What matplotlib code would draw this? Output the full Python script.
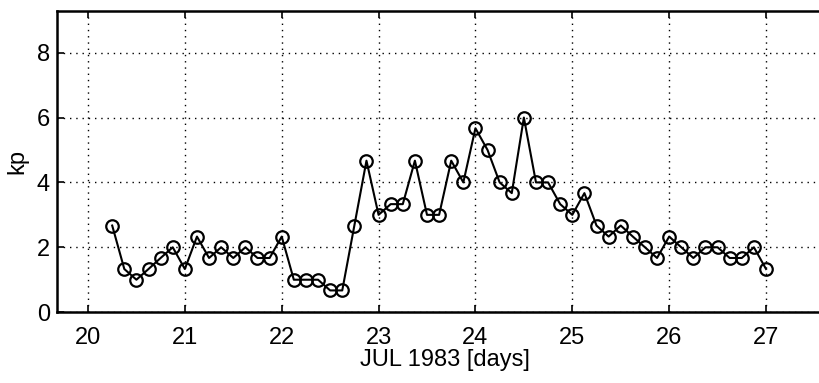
import numpy as np
import matplotlib
matplotlib.use("Agg")
import matplotlib.pyplot as plt

# 3-hourly Kp index, 20 Jul 1983 06 UT .. 27 Jul 1983 00 UT
t_start = 20.25
t_step = 0.125
kp = [2.67, 1.33, 1.0, 1.33, 1.67, 2.0, 1.33, 2.33, 1.67, 2.0,
      1.67, 2.0, 1.67, 1.67, 2.33, 1.0, 1.0, 1.0, 0.67, 0.67,
      2.67, 4.67, 3.0, 3.33, 3.33, 4.67, 3.0, 3.0, 4.67, 4.0,
      5.67, 5.0, 4.0, 3.67, 6.0, 4.0, 4.0, 3.33, 3.0, 3.67,
      2.67, 2.33, 2.67, 2.33, 2.0, 1.67, 2.33, 2.0, 1.67, 2.0,
      2.0, 1.67, 1.67, 2.0, 1.33]
day_ticks = [20, 21, 22, 23, 24, 25, 26, 27]
kp_ticks = [0, 2, 4, 6, 8]

days = t_start + t_step * np.arange(len(kp))

plt.rcParams["font.family"] = ["Liberation Sans", "DejaVu Sans"]
fig = plt.figure(figsize=(8.2, 3.83), dpi=100)
# axes run past the right edge of the figure, so the right spine is cut off
ax = fig.add_axes([0.0695, 0.185, 0.945, 0.785])

ax.plot(days, kp, "-", color="black", lw=1.5, marker="o", ms=9,
        mfc="none", mec="black", mew=1.6)

ax.set_xlim(19.68, 27.68)
ax.set_ylim(0, 9.27)
ax.set_xticks(day_ticks)
ax.set_yticks(kp_ticks)
ax.tick_params(direction="in", length=5, width=1.2, labelsize=17,
               top=True, right=False)
ax.tick_params(axis="x", pad=11)
ax.tick_params(axis="y", pad=5)
ax.grid(True, color="black", linestyle=(0, (1, 3.5)), linewidth=1.0)
for s in ax.spines.values():
    s.set_linewidth(1.8)

ax.set_xlabel("JUL 1983 [days]", fontsize=17, labelpad=0)
ax.set_ylabel("kp", fontsize=17, labelpad=6)

fig.savefig("out.png", dpi=100)
